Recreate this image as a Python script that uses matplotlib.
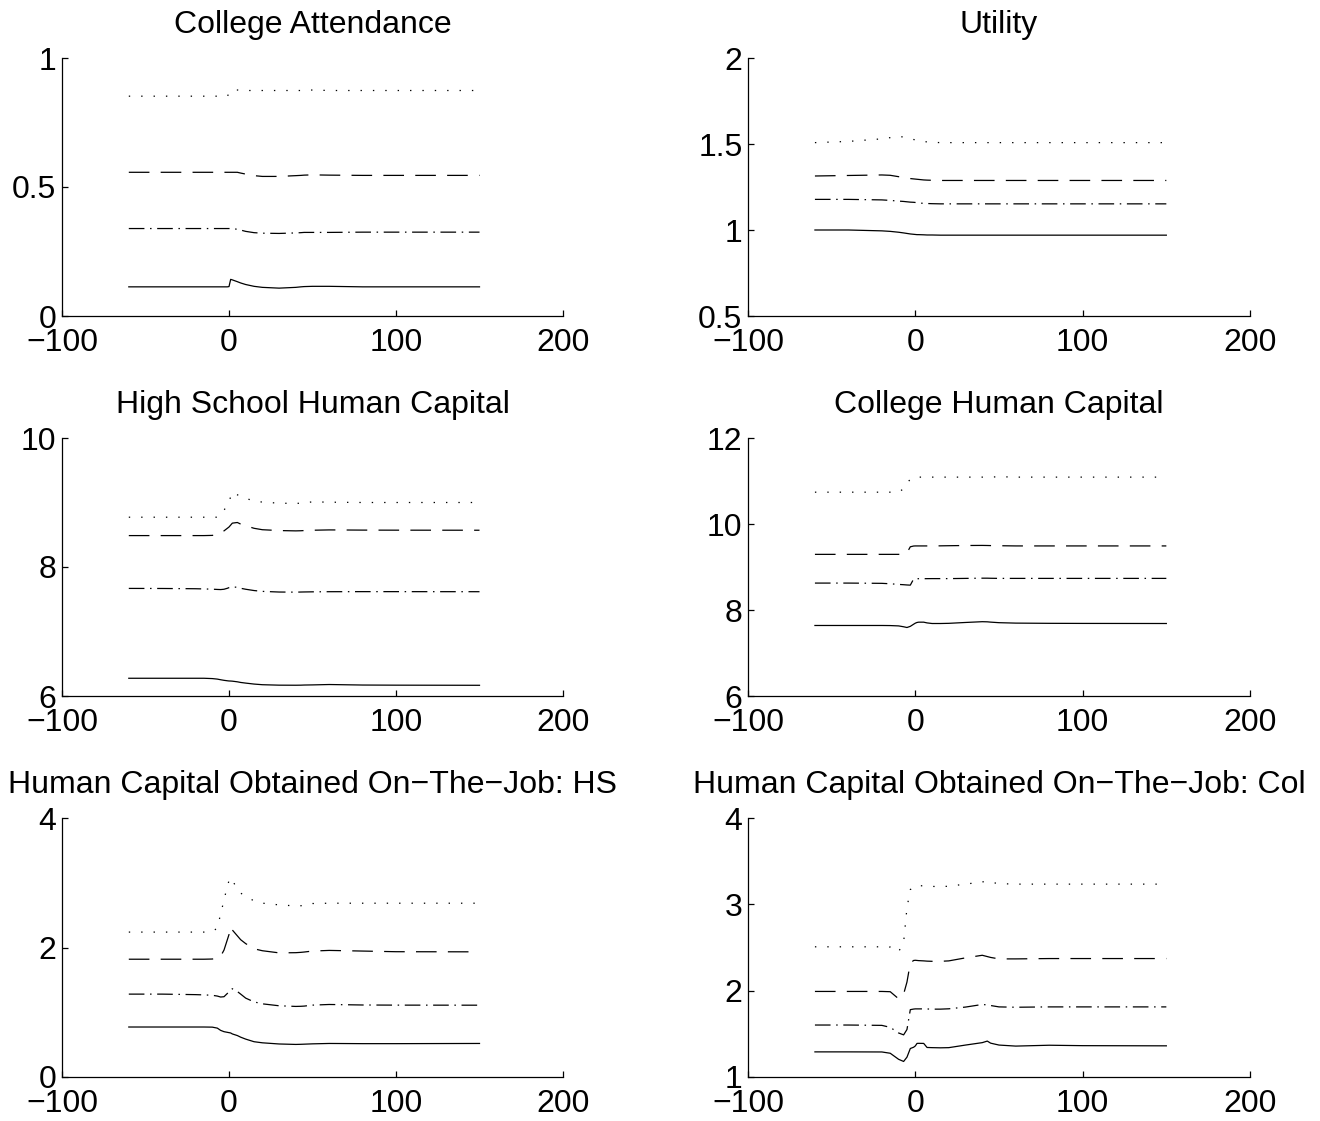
import matplotlib
matplotlib.use("Agg")
import matplotlib.pyplot as plt
from matplotlib.ticker import FuncFormatter

plt.rcParams['font.family'] = ['Liberation Sans', 'DejaVu Sans']

# Time relative to the policy change (model periods)
periods = [-60, -40, -20, -15, -10, -7, -5, -3, -1, 0, 1, 2, 5, 7, 10,
           15, 20, 30, 40, 43, 45, 50, 60, 80, 100, 150]

# College attendance
att_solid = [0.113, 0.113, 0.113, 0.113, 0.113, 0.113, 0.113, 0.113, 0.113, 0.114,
             0.142, 0.140, 0.133, 0.128, 0.122, 0.115, 0.111, 0.108, 0.111, 0.113,
             0.114, 0.115, 0.115, 0.113, 0.113, 0.113]
att_dashdot = [0.339, 0.339, 0.339, 0.339, 0.339, 0.339, 0.339, 0.339, 0.339, 0.339,
               0.339, 0.339, 0.336, 0.333, 0.328, 0.323, 0.321, 0.320, 0.322, 0.323,
               0.324, 0.324, 0.324, 0.325, 0.325, 0.325]
att_dashed = [0.557, 0.557, 0.557, 0.557, 0.557, 0.557, 0.557, 0.557, 0.557, 0.557,
              0.557, 0.557, 0.557, 0.554, 0.550, 0.544, 0.541, 0.541, 0.544, 0.545,
              0.546, 0.547, 0.546, 0.545, 0.545, 0.545]
att_dotted = [0.852, 0.852, 0.852, 0.852, 0.852, 0.852, 0.852, 0.852, 0.852, 0.862,
              0.874, 0.876, 0.876, 0.874, 0.874, 0.874, 0.874, 0.874, 0.874, 0.874,
              0.874, 0.876, 0.874, 0.874, 0.874, 0.874]

# Utility
util_solid = [1.000, 1.000, 0.995, 0.992, 0.987, 0.983, 0.980, 0.977, 0.975, 0.974,
              0.973, 0.973, 0.972, 0.971, 0.971, 0.970, 0.970, 0.970, 0.970, 0.970,
              0.970, 0.970, 0.970, 0.970, 0.970, 0.970]
util_dashdot = [1.178, 1.178, 1.175, 1.172, 1.168, 1.166, 1.164, 1.162, 1.161, 1.160,
                1.158, 1.157, 1.155, 1.154, 1.153, 1.152, 1.152, 1.152, 1.152, 1.152,
                1.152, 1.152, 1.152, 1.152, 1.152, 1.152]
util_dashed = [1.314, 1.317, 1.320, 1.318, 1.310, 1.305, 1.302, 1.299, 1.297, 1.296,
               1.295, 1.294, 1.291, 1.290, 1.289, 1.288, 1.288, 1.288, 1.288, 1.288,
               1.288, 1.288, 1.288, 1.288, 1.288, 1.288]
util_dotted = [1.508, 1.515, 1.530, 1.537, 1.543, 1.541, 1.535, 1.530, 1.526, 1.524,
               1.522, 1.520, 1.515, 1.512, 1.510, 1.508, 1.508, 1.508, 1.508, 1.508,
               1.508, 1.508, 1.508, 1.508, 1.508, 1.508]

# High school human capital
hs_solid = [6.275, 6.275, 6.275, 6.275, 6.270, 6.262, 6.252, 6.243, 6.236, 6.233,
            6.232, 6.230, 6.220, 6.210, 6.200, 6.185, 6.175, 6.168, 6.167, 6.168,
            6.170, 6.172, 6.178, 6.170, 6.168, 6.166]
hs_dashdot = [7.668, 7.667, 7.663, 7.660, 7.656, 7.652, 7.650, 7.655, 7.670, 7.680,
              7.688, 7.692, 7.685, 7.670, 7.655, 7.635, 7.622, 7.612, 7.610, 7.612,
              7.613, 7.615, 7.617, 7.618, 7.618, 7.617]
hs_dashed = [8.487, 8.487, 8.487, 8.487, 8.490, 8.505, 8.530, 8.560, 8.600, 8.620,
             8.650, 8.680, 8.690, 8.665, 8.640, 8.600, 8.578, 8.565, 8.560, 8.562,
             8.565, 8.570, 8.575, 8.572, 8.571, 8.570]
hs_dotted = [8.772, 8.772, 8.772, 8.772, 8.772, 8.772, 8.800, 8.880, 8.960, 9.010,
             9.090, 9.160, 9.120, 9.090, 9.060, 9.030, 9.005, 8.990, 8.985, 8.990,
             8.995, 9.010, 9.005, 9.000, 9.000, 9.000]

# College human capital
col_solid = [7.640, 7.640, 7.640, 7.638, 7.630, 7.610, 7.593, 7.620, 7.670, 7.694,
             7.710, 7.717, 7.717, 7.700, 7.686, 7.686, 7.690, 7.710, 7.728, 7.725,
             7.718, 7.705, 7.695, 7.690, 7.688, 7.686]
col_dashdot = [8.626, 8.626, 8.620, 8.610, 8.595, 8.588, 8.582, 8.578, 8.722, 8.727,
               8.727, 8.728, 8.728, 8.729, 8.730, 8.730, 8.730, 8.735, 8.740, 8.740,
               8.738, 8.735, 8.735, 8.735, 8.735, 8.735]
col_dashed = [9.294, 9.294, 9.294, 9.294, 9.294, 9.300, 9.330, 9.470, 9.488, 9.490,
              9.490, 9.490, 9.490, 9.490, 9.490, 9.492, 9.495, 9.500, 9.502, 9.500,
              9.498, 9.495, 9.490, 9.490, 9.490, 9.490]
col_dotted = [10.74, 10.74, 10.74, 10.74, 10.74, 10.82, 10.95, 11.04, 11.09, 11.09,
              11.09, 11.09, 11.09, 11.09, 11.09, 11.09, 11.09, 11.09, 11.09, 11.09,
              11.09, 11.10, 11.09, 11.09, 11.09, 11.09]

# Human capital obtained on-the-job: high school
ojt_hs_solid = [0.772, 0.772, 0.772, 0.772, 0.770, 0.755, 0.720, 0.700, 0.690, 0.685,
                0.680, 0.665, 0.640, 0.615, 0.585, 0.545, 0.528, 0.510, 0.503, 0.505,
                0.507, 0.512, 0.518, 0.515, 0.515, 0.518]
ojt_hs_dashdot = [1.280, 1.280, 1.272, 1.268, 1.262, 1.250, 1.235, 1.240, 1.290, 1.320,
                  1.350, 1.363, 1.320, 1.280, 1.218, 1.160, 1.130, 1.100, 1.090, 1.092,
                  1.095, 1.110, 1.120, 1.112, 1.110, 1.109]
ojt_hs_dashed = [1.819, 1.819, 1.819, 1.819, 1.822, 1.835, 1.865, 1.960, 2.120, 2.200,
                 2.320, 2.270, 2.180, 2.120, 2.060, 1.980, 1.950, 1.917, 1.920, 1.925,
                 1.930, 1.945, 1.955, 1.945, 1.935, 1.933]
ojt_hs_dotted = [2.238, 2.238, 2.238, 2.238, 2.245, 2.300, 2.520, 2.730, 2.950, 3.030,
                 3.080, 3.040, 2.900, 2.840, 2.790, 2.720, 2.685, 2.658, 2.642, 2.645,
                 2.650, 2.679, 2.684, 2.684, 2.684, 2.684]

# Human capital obtained on-the-job: college
ojt_col_solid = [1.291, 1.291, 1.290, 1.275, 1.205, 1.180, 1.230, 1.330, 1.345, 1.360,
                 1.389, 1.390, 1.389, 1.342, 1.340, 1.338, 1.340, 1.370, 1.398, 1.416,
                 1.392, 1.370, 1.358, 1.368, 1.363, 1.361]
ojt_col_dashdot = [1.602, 1.602, 1.598, 1.575, 1.510, 1.488, 1.550, 1.780, 1.787, 1.789,
                   1.789, 1.789, 1.789, 1.788, 1.786, 1.786, 1.790, 1.810, 1.840, 1.835,
                   1.828, 1.812, 1.808, 1.812, 1.812, 1.812]
ojt_col_dashed = [1.991, 1.991, 1.991, 1.988, 1.906, 1.960, 2.100, 2.320, 2.350, 2.352,
                  2.350, 2.348, 2.345, 2.342, 2.340, 2.340, 2.345, 2.380, 2.410, 2.395,
                  2.385, 2.368, 2.368, 2.372, 2.372, 2.372]
ojt_col_dotted = [2.508, 2.508, 2.508, 2.505, 2.450, 2.560, 2.960, 3.170, 3.210, 3.215,
                  3.215, 3.215, 3.215, 3.212, 3.208, 3.204, 3.210, 3.234, 3.260, 3.266,
                  3.255, 3.240, 3.234, 3.234, 3.234, 3.234]

titles = ["College Attendance", "Utility",
          "High School Human Capital", "College Human Capital",
          "Human Capital Obtained On\u2212The\u2212Job: HS",
          "Human Capital Obtained On\u2212The\u2212Job: Col"]
y_limits = [(0, 1), (0.5, 2), (6, 10), (6, 12), (0, 4), (1, 4)]
y_ticks = [[0, 0.5, 1], [0.5, 1, 1.5, 2], [6, 8, 10], [6, 8, 10, 12],
           [0, 2, 4], [1, 2, 3, 4]]
x_ticks = [-100, 0, 100, 200]

series = [
    (att_solid, att_dashdot, att_dashed, att_dotted),
    (util_solid, util_dashdot, util_dashed, util_dotted),
    (hs_solid, hs_dashdot, hs_dashed, hs_dotted),
    (col_solid, col_dashdot, col_dashed, col_dotted),
    (ojt_hs_solid, ojt_hs_dashdot, ojt_hs_dashed, ojt_hs_dotted),
    (ojt_col_solid, ojt_col_dashdot, ojt_col_dashed, ojt_col_dotted),
]

LW = 0.9
styles = ['-', (0, (12.5, 4.5, 1.2, 4.5)), (0, (16.5, 9.0)), (0, (1.1, 8.8))]

W, H = 1320, 1121
fig = plt.figure(figsize=(W / 100, H / 100), dpi=100)

cols = [(62, 563), (748, 1250)]
rows = [(58, 316), (438, 696), (818, 1077)]


def fmt(v, pos):
    return f"{v:g}".replace('-', '\u2212')


for i in range(6):
    l, r = cols[i % 2]
    t, b = rows[i // 2]
    ax = fig.add_axes([l / W, 1 - b / H, (r - l) / W, (b - t) / H])
    for ys, ls in zip(series[i], styles):
        ax.plot(periods, ys, color='black', lw=LW, linestyle=ls)
    ax.set_xlim(-100, 200)
    ax.set_ylim(*y_limits[i])
    ax.set_xticks(x_ticks)
    ax.set_yticks(y_ticks[i])
    ax.xaxis.set_major_formatter(FuncFormatter(fmt))
    ax.yaxis.set_major_formatter(FuncFormatter(fmt))
    ax.spines['top'].set_visible(False)
    ax.spines['right'].set_visible(False)
    for s in ('left', 'bottom'):
        ax.spines[s].set_linewidth(0.9)
    ax.tick_params(direction='in', length=4, width=0.9, labelsize=23)
    ax.tick_params(axis='x', pad=8.5)
    ax.tick_params(axis='y', pad=4)
    ax.set_title(titles[i], fontsize=23, pad=18)

fig.savefig("out.png", dpi=100)
